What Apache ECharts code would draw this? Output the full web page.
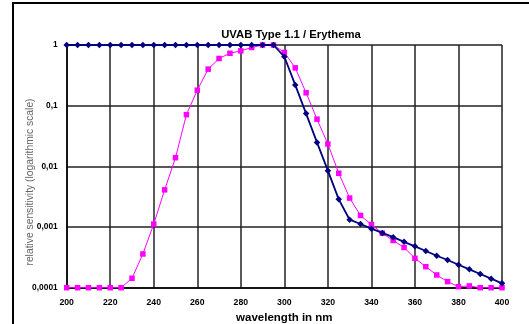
<!DOCTYPE html>
<html>
<head>
<meta charset="utf-8">
<script src="https://cdn.jsdelivr.net/npm/echarts@6/dist/echarts.min.js"></script>
<style>
html,body{margin:0;padding:0;background:#fff;}
#c{width:529px;height:324px;}
</style>
</head>
<body>
<div id="c"></div>
<script>
var wavelengths = [200,205,210,215,220,225,230,235,240,245,250,255,260,265,270,275,280,285,290,295,300,305,310,315,320,325,330,335,340,345,350,355,360,365,370,375,380,385,390,395,400];
var uvabType = [1,1,1,1,1,1,1,1,1,1,1,1,1,1,1,1,1,1,1,1,0.64,0.22,0.074,0.0248,0.0085,0.00286,0.00132,0.00112,0.00094,0.00080,0.00068,0.00057,0.00048,0.000403,0.000336,0.000286,0.000239,0.000201,0.000168,0.000141,0.000118];
var erythema = [0.0001,0.0001,0.0001,0.0001,0.0001,0.0001,0.000143,0.00036,0.00112,0.0041,0.0139,0.071,0.18,0.40,0.60,0.73,0.80,0.91,1,1,0.755,0.42,0.163,0.060,0.0233,0.0077,0.0030,0.00155,0.0011,0.00079,0.00060,0.00046,0.000305,0.000222,0.000162,0.000126,0.000104,0.000107,0.0001,0.0001,0.0001];
var yTickLabels = {'1':'1','0.1':'0,1','0.01':'0,01','0.001':'0,001','0.0001':'0,0001'};
var titleText = 'UVAB Type 1.1 / Erythema';
var xName = 'wavelength in nm';
var yName = 'relative sensitivity (logarithmic scale)';

function pairs(xs, ys){ return xs.map(function(x,i){ return [x, ys[i]]; }); }
function fmtY(v){
  var e = Math.round(Math.log10(v));
  var key = Math.pow(10, e).toString();
  if (yTickLabels[key]) return yTickLabels[key];
  return String(v).replace('.', ',');
}

var chart = echarts.init(document.getElementById('c'));
var font = 'Liberation Sans, Arial, sans-serif';
chart.setOption({
  animation: false,
  backgroundColor: '#fff',
  textStyle: {fontFamily: font},
  graphic: [{
    type: 'rect',
    shape: {x: 13, y: 3, width: 600, height: 400},
    style: {fill: 'none', stroke: '#000', lineWidth: 2},
    silent: true, z: -1
  },{
    type: 'text',
    x: 30, y: 182, rotation: Math.PI / 2,
    style: {text: yName, fontSize: 10.3, fill: '#666', fontFamily: font, align: 'center', verticalAlign: 'middle'},
    silent: true
  }],
  title: {
    text: titleText,
    left: 286, top: 24, textAlign: 'center',
    textStyle: {fontSize: 11.3, fontWeight: 'bold', color: '#000', fontFamily: font}
  },
  grid: {left: 66.7, right: 27, top: 45, bottom: 36.3, containLabel: false, outerBoundsMode: 'none'},
  xAxis: {
    type: 'value', min: 200, max: 400, interval: 20,
    name: xName, nameLocation: 'middle', nameGap: 24,
    nameTextStyle: {fontSize: 11.5, fontWeight: 'bold', color: '#000', fontFamily: font},
    axisLine: {show: true, lineStyle: {color: '#000', width: 1.5}},
    axisTick: {show: false},
    axisLabel: {fontSize: 8.7, fontWeight: 'bold', color: '#000', margin: 10, fontFamily: font},
    splitLine: {show: true, lineStyle: {color: '#222', width: 1.5}}
  },
  yAxis: {
    type: 'log', logBase: 10, min: 0.0001, max: 1,
    axisLine: {show: true, lineStyle: {color: '#000', width: 1.5}},
    axisTick: {show: false},
    axisLabel: {fontSize: 8.4, fontWeight: 'bold', color: '#000', margin: 9, formatter: fmtY, fontFamily: font},
    splitLine: {show: true, lineStyle: {color: '#222', width: 1.5}}
  },
  series: [{
    name: 'Erythema', type: 'line', data: pairs(wavelengths, erythema),
    symbol: 'rect', symbolSize: 5.5,
    lineStyle: {color: '#ff00ff', width: 1},
    itemStyle: {color: '#ff00ff'},
    z: 2
  },{
    name: 'UVAB Type 1.1', type: 'line', data: pairs(wavelengths, uvabType),
    symbol: 'diamond', symbolSize: 6.5,
    lineStyle: {color: '#000080', width: 1.8},
    itemStyle: {color: '#000080'},
    z: 3
  }]
});
</script>
</body>
</html>
